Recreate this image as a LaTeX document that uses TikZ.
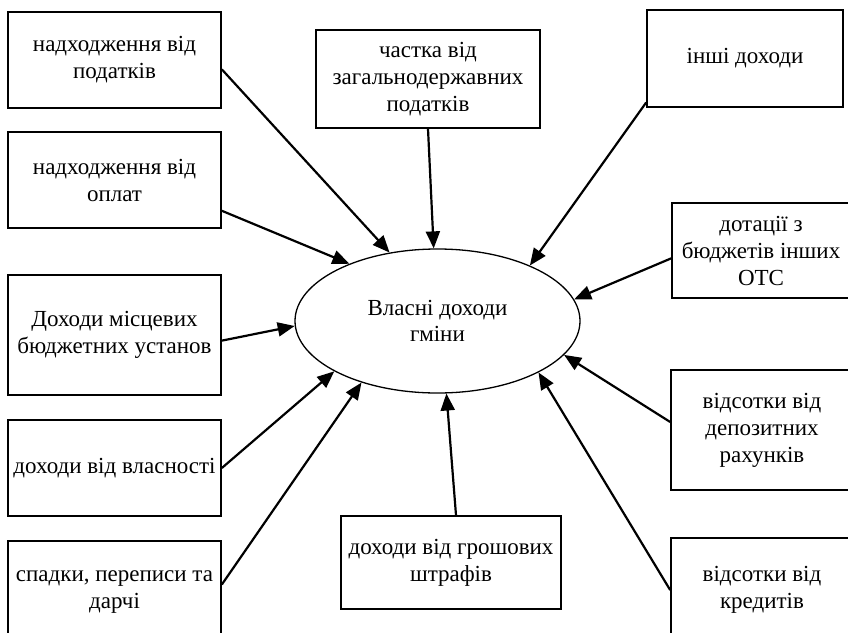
\documentclass[tikz,border=0pt]{standalone}
\usepackage{fontspec}
\setmainfont{Liberation Serif}
\usepackage{tikz}
\usetikzlibrary{arrows.meta}
\usetikzlibrary{shapes.geometric}
\tikzstyle{srcbox} = [draw=black, line width=1.7pt, rectangle,
align=center, inner sep=2pt, font=\fontsize{23}{27}\selectfont]
\tikzstyle{mainoval} = [draw=black, line width=1.3pt, ellipse, inner sep=0pt,
minimum width=285pt, minimum height=144pt, align=center,
font=\fontsize{23}{26}\selectfont]
\tikzstyle{feed} = [line width=2.2pt, -{Triangle[length=17pt,width=14pt]}]

\begin{document}
\begin{tikzpicture}[x=1pt, y=-1pt]
        \useasboundingbox (0,0) rectangle (848,632);
        % centre
        \node [mainoval] (own) at (437.5,321) {Власні доходи\\гміни};
        % left column
        \node [srcbox, minimum width=213pt, minimum height=96pt] (tax) at (114.5,60) {надходження від\\податків};
        \node [srcbox, minimum width=213pt, minimum height=96pt] (fees) at (114.5,180) {надходження від\\оплат};
        \node [srcbox, minimum width=213pt, minimum height=120pt] (inst) at (114.5,335) {Доходи місцевих\\бюджетних установ};
        \node [srcbox, minimum width=213pt, minimum height=96pt] (prop) at (114.5,468) {доходи від власності};
        \node [srcbox, minimum width=213pt, minimum height=102pt] (gift) at (114.5,592) {спадки, переписи та\\дарчі};
        % top and bottom
        \node [srcbox, minimum width=224pt, minimum height=98pt] (share) at (428,79) {частка від\\загальнодержавних\\податків};
        \node [srcbox, minimum width=220pt, minimum height=93pt] (fine) at (451,562.5) {доходи від грошових\\штрафів};
        % right column
        \node [srcbox, minimum width=196pt, minimum height=97pt] (other) at (745,58.5) {інші доходи};
        \node [srcbox, minimum width=178pt, minimum height=95pt] (grant) at (761,250.5) {дотації з\\бюджетів інших\\ОТС};
        \node [srcbox, minimum width=182pt, minimum height=120pt] (depo) at (762,430) {відсотки від\\депозитних\\рахунків};
        \node [srcbox, minimum width=182pt, minimum height=104pt] (cred) at (762,590) {відсотки від\\кредитів};

        \draw [feed] (tax.-5) -- (own.125);
        \draw [feed] (fees.-16) -- (own.147);
        \draw [feed] (inst.-3) -- (own.182);
        \draw [feed] (prop.east) -- (own.206);
        \draw [feed] (gift.4) -- (own.219);
        \draw [feed] (share.south) -- (own.93);
        \draw [feed] (other.204) -- (own.31);
        \draw [feed] (grant.185) -- (own.9);
        \draw [feed] (depo.175) -- (own.345);
        \draw [feed] (cred.west) -- (own.333);
        \draw [feed] ([xshift=5pt]fine.north) -- (own.277);
    \end{tikzpicture}
\end{document}
